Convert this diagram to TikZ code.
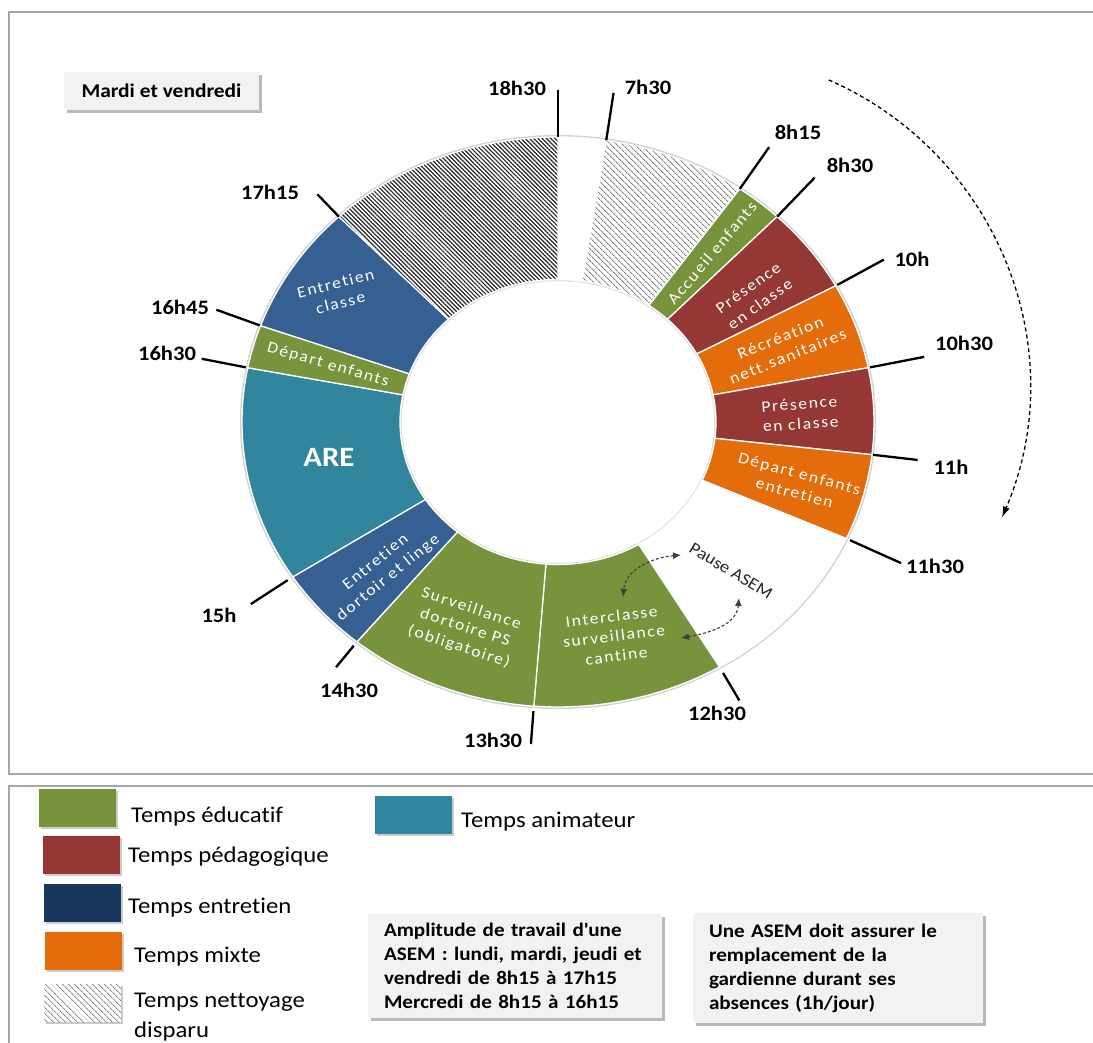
\documentclass[tikz,border=0pt]{standalone}
\usepackage{fontspec}
\setmainfont{Carlito}[FakeStretch=1.1,Ligatures=NoCommon]
\usetikzlibrary{arrows.meta,patterns.meta,shadows}

\definecolor{educ}{HTML}{77933C}
\definecolor{pedago}{HTML}{953735}
\definecolor{entret}{HTML}{376092}
\definecolor{entretleg}{HTML}{17375E}
\definecolor{mixte}{HTML}{E46C0A}
\definecolor{anim}{HTML}{31859C}
\definecolor{boxgray}{HTML}{F2F2F2}
\definecolor{framegray}{HTML}{A6A6A6}

% one quarter of an hour on the ring
\newcommand{\qh}{8.7805}
% ring part from quarter #2 to quarter #3, counted clockwise from 18h30
\newcommand{\ringpart}[3]{%
  \path[#1] ({90-#2*\qh}:316pt and 285pt)
    arc[start angle={90-#2*\qh},end angle={90-#3*\qh},x radius=316pt,y radius=285pt]
    -- ({90-#3*\qh}:158pt and 142.5pt)
    arc[start angle={90-#3*\qh},end angle={90-#2*\qh},x radius=158pt,y radius=142.5pt]
    -- cycle;}

\begin{document}
\begin{tikzpicture}[x=1pt,y=1pt,
    frame/.style={draw=framegray,line width=1.5pt},
    note/.style={fill=boxgray,align=left,inner xsep=16pt,
      font=\bfseries\fontsize{19.2}{24}\selectfont,
      drop shadow={shadow xshift=3pt,shadow yshift=-3pt,fill=black!45,opacity=.6}},
    seg/.style={draw=white,line width=1.3pt},
    hour/.style={font=\bfseries\fontsize{20.5}{24}\selectfont},
    tick/.style={line width=2.3pt},
    lbl/.style={text=white,align=center,
      font=\fontsize{16}{20}\selectfont\addfontfeature{LetterSpace=10}},
    swatch/.style={minimum width=77pt,minimum height=38pt,inner sep=0pt,
      drop shadow={shadow xshift=2pt,shadow yshift=-2pt,fill=black!40,opacity=.5}},
    legtext/.style={anchor=west,inner sep=0pt,font=\fontsize{22.5}{24}\selectfont},
    pausearrow/.style={<->,>={Latex[length=8pt,width=7pt]},draw=black!75,
      dash pattern=on 3pt off 2pt,line width=1.1pt},
    sweep/.style={->,>={Latex[length=11pt,width=7pt]},dash pattern=on 4pt off 3pt,line width=1.3pt}]

\clip (0,0) rectangle (1093,1043);
\draw[frame] (9,269) rectangle (1120,1031);
\draw[frame] (9,-20) rectangle (1120,257);

\node[note,minimum width=195pt,minimum height=38pt,inner xsep=0pt,align=center,
  font=\bfseries\fontsize{19.5}{22}\selectfont] (jours) at (161.5,952) {Mardi et vendredi};

\begin{scope}[shift={(558,621)}]
  \draw[gray!35,line width=2pt] (0,0) ellipse[x radius=317pt,y radius=286pt];
  \draw[gray!25,line width=1.5pt] (0,0) ellipse[x radius=157pt,y radius=141.5pt];
  \ringpart{seg,fill=white}{0}{1}
  \ringpart{seg,pattern={Lines[angle=-45,distance=4pt,line width=1pt]},pattern color=black!50}{1}{4}
  \ringpart{seg,fill=educ}{4}{5}
  \ringpart{seg,fill=pedago}{5}{7}
  \ringpart{seg,fill=mixte}{7}{9}
  \ringpart{seg,fill=pedago}{9}{11}
  \ringpart{seg,fill=mixte}{11}{13}
  \ringpart{seg,fill=white}{13}{17}
  \ringpart{seg,fill=educ}{17}{21}
  \ringpart{seg,fill=educ}{21}{25}
  \ringpart{seg,fill=entret}{25}{27}
  \ringpart{seg,fill=anim}{27}{32}
  \ringpart{seg,fill=educ}{32}{33}
  \ringpart{seg,fill=entret}{33}{36}
  \ringpart{seg,pattern={Lines[angle=-45,distance=3pt,line width=1.2pt]},pattern color=black!85}{36}{41}
  \foreach \k/\g/\l/\t in {0/0/47/1830,1/0/48/0730,4/0/51/0815,5/0/54/0830,7/2/53/1000,
      9/2/55/1030,11/1/45/1100,13/4/56/1130,17/7/32/1230,21/5/33/1330,25/5/28/1430,
      27/6/44/1500,32/2/45/1630,33/1/46/1645,36/0/31/1715}{
    \pgfmathsetmacro\ang{90-\k*\qh}
    \pgfmathsetmacro\ra{316+\g}
    \pgfmathsetmacro\rb{285+\g}
    \coordinate (b\t) at (\ang:\ra pt and \rb pt);
    \coordinate (e\t) at (\ang:\ra pt+\l pt and \rb pt+\l pt);
    \draw[tick] (b\t) -- (e\t);
  }
\end{scope}

\node[hour] (l1830) at (517,955) {18h30};
\node[hour] (l0730) at (648,956) {7h30};
\node[hour] (l0815) at (798,911) {8h15};
\node[hour] (l0830) at (850,878) {8h30};
\node[hour] (l1000) at (912,784) {10h};
\node[hour] (l1030) at (964,700) {10h30};
\node[hour] (l1100) at (951,576) {11h};
\node[hour] (l1130) at (935,477) {11h30};
\node[hour] (l1230) at (717,330) {12h30};
\node[hour] (l1330) at (493,303) {13h30};
\node[hour] (l1430) at (349,353) {14h30};
\node[hour] (l1500) at (219,428) {15h};
\node[hour] (l1630) at (167,690) {16h30};
\node[hour] (l1645) at (180,736) {16h45};
\node[hour] (l1715) at (270,851) {17h15};

\node[lbl,rotate=50] (accueil) at (712,790) {Accueil enfants};
\node[lbl,rotate=36] (classe1) at (754,747) {Présence\\en classe};
\node[lbl,rotate=22] (recre) at (784,696) {Récréation\\nett.sanitaires};
\node[lbl,rotate=4] (classe2) at (800,629) {Présence\\en classe};
\node[lbl,rotate=-15] (depart1) at (797,560) {Départ enfants\\entretien};
\node[lbl,rotate=7] (cantine) at (614,407) {Interclasse\\surveillance\\cantine};
\node[lbl,rotate=-18] (dortoir) at (465,415) {Surveillance\\dortoire PS\\(obligatoire)};
\node[lbl,rotate=39] (linge) at (382,473) {Entretien\\dortoir et linge};
\node[lbl,font=\bfseries\fontsize{28}{30}\selectfont] (are) at (329,586) {ARE};
\node[lbl,rotate=-16] (depart2) at (328,678) {Départ enfants};
\node[lbl,rotate=14] (menage) at (338,750) {Entretien\\classe};

\node[rotate=-31,text=black!85,font=\fontsize{17}{20}\selectfont] (pause) at (731,472) {Pause ASEM};
\coordinate (pa) at (681,488);
\coordinate (pb) at (623,446);
\coordinate (pc) at (739,445);
\coordinate (pd) at (681,405);
\draw[pausearrow] (pa) to[out=185,in=85] (pb);
\draw[pausearrow] (pc) to[out=-95,in=10] (pd);

\draw[sweep] (695,657) ++(66.4:334pt) arc[start angle=66.4,end angle=-23.2,radius=334pt];

\node[swatch,fill=educ] (seduc) at (77.5,235) {};
\node[swatch,fill=pedago] (spedago) at (81,187.5) {};
\node[swatch,fill=entretleg] (sentret) at (82,139.5) {};
\node[swatch,fill=mixte] (smixte) at (83.5,91.5) {};
\node[swatch,preaction={fill=white},pattern={Lines[angle=-45,distance=4pt,line width=1pt]},
  pattern color=black!45] (snettoy) at (82.5,39.5) {};
\node[swatch,fill=anim] (sanim) at (413,228) {};
\node[legtext] (teduc) at (131,226) {Temps éducatif};
\node[legtext] (tpedago) at (128,186) {Temps pédagogique};
\node[legtext] (tentret) at (128,135) {Temps entretien};
\node[legtext] (tmixte) at (134,86) {Temps mixte};
\node[legtext] (tnettoy) at (134,41) {Temps nettoyage};
\node[legtext] (tdisparu) at (134,11) {disparu};
\node[legtext] (tanim) at (461,221) {Temps animateur};

\node[note,text width=262pt,minimum height=104pt] (amplitude) at (515,77)
  {Amplitude de travail d\textquotesingle une\\ASEM : lundi, mardi, jeudi et\\vendredi de 8h15 à 17h15\\Mercredi de 8h15 à 16h15};
\node[note,text width=258pt,minimum height=110pt] (gardienne) at (838,75)
  {Une ASEM doit assurer le\\remplacement de la\\gardienne durant ses\\absences (1h/jour)};
\end{tikzpicture}
\end{document}
